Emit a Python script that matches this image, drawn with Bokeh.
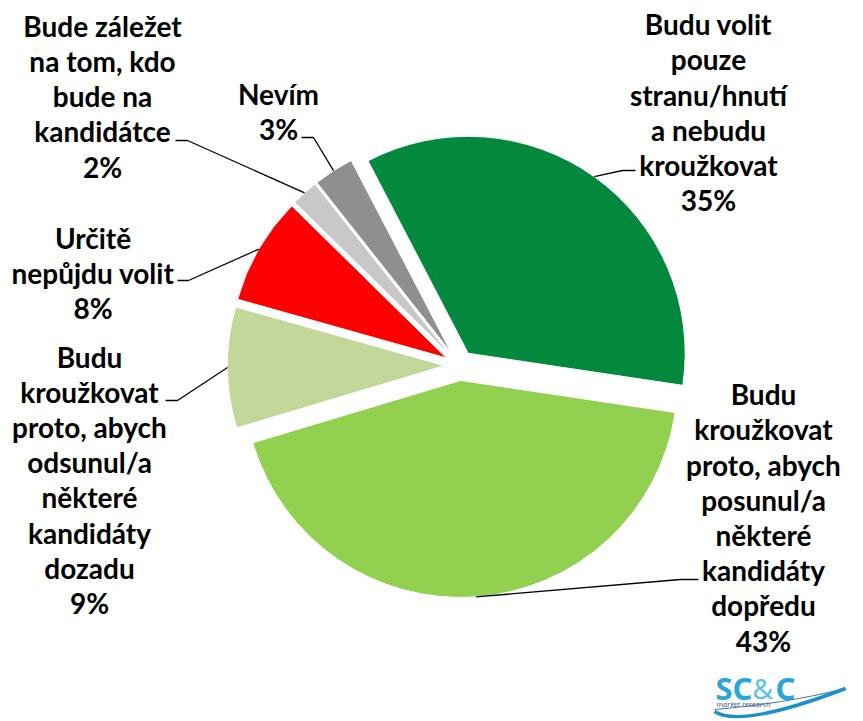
import math
from bokeh.plotting import figure
from bokeh.models import Range1d, ColumnDataSource
from bokeh.core.properties import value
from bokeh.embed import file_html
from bokeh.resources import INLINE

# ---------------- data ----------------
categories = [
    "Budu volit pouze stranu/hnutí a nebudu kroužkovat",
    "Budu kroužkovat proto, abych posunul/a některé kandidáty dopředu",
    "Budu kroužkovat proto, abych odsunul/a některé kandidáty dozadu",
    "Určitě nepůjdu volit",
    "Bude záležet na tom, kdo bude na kandidátce",
    "Nevím",
]
shares = [35, 43, 9, 8, 2, 3]
label_lines = [
    ["Budu volit", "pouze", "stranu/hnutí", "a nebudu", "kroužkovat"],
    ["Budu", "kroužkovat", "proto, abych", "posunul/a", "některé", "kandidáty", "dopředu"],
    ["Budu", "kroužkovat", "proto, abych", "odsunul/a", "některé", "kandidáty", "dozadu"],
    ["Určitě", "nepůjdu volit"],
    ["Bude záležet", "na tom, kdo", "bude na", "kandidátce"],
    ["Nevím"],
]
colors = ["#03893e", "#92d050", "#c4d79b", "#ff0000", "#c8c8c8", "#8f8f8f"]

# ---------------- layout (reference pixel coordinates) ----------------
W, H = 863, 721
CX, CY = 459, 365          # pie centre
R = 217                    # radius
EXPLODE = 15               # explosion offset
ROT = -27.5                # start angle, degrees clockwise from 12 o'clock
LINE_H = 35.2
TEXT_DY = -8               # correction of text placement
# label centre x and first baseline y
label_pos = [(708, 31.7), (763, 401.7), (89, 364.0), (92.5, 245.0), (102, 33.3), (278, 101.7)]
# leader lines: (end x, elbow x, y of horizontal part)
leader_pos = [(635, 622, 170), (698, 680, 579), (165, 177, 400), (177, 188, 280),
              (175, 187, 140), (301, 313, 137)]


def Y(y_ref):
    return H - y_ref


p = figure(width=W, height=H, x_range=Range1d(0, W), y_range=Range1d(0, H),
           output_backend="svg", toolbar_location=None, min_border=0)
p.axis.visible = False
p.grid.visible = False
p.outline_line_color = None
p.background_fill_color = "white"

total = float(sum(shares))
acc = ROT
wx, wy, sa, ea, mids = [], [], [], [], []
for v in shares:
    t0 = acc
    t1 = acc + 360.0 * v / total
    tm = math.radians((t0 + t1) / 2)
    mids.append(tm)
    wx.append(CX + EXPLODE * math.sin(tm))
    wy.append(Y(CY) + EXPLODE * math.cos(tm))
    sa.append(math.radians(90 - t0))
    ea.append(math.radians(90 - t1))
    acc = t1

src = ColumnDataSource(dict(x=wx, y=wy, sa=sa, ea=ea, color=colors, cat=categories))
p.wedge(x="x", y="y", radius=R, start_angle="sa", end_angle="ea", direction="clock",
        fill_color="color", line_color="white", line_width=1, source=src)

# leader lines
lxs, lys = [], []
for i, tm in enumerate(mids):
    sx = wx[i] + R * math.sin(tm)
    sy = wy[i] + R * math.cos(tm)
    ex, bx, hy = leader_pos[i]
    lxs.append([ex, bx, sx])
    lys.append([Y(hy), Y(hy), sy])
p.multi_line(xs=lxs, ys=lys, line_color="black", line_width=1.3)

# labels
tx, ty, tt = [], [], []
for i, lines in enumerate(label_lines):
    cx, by = label_pos[i]
    allines = lines + ["%d%%" % shares[i]]
    for j, s in enumerate(allines):
        tx.append(cx)
        ty.append(Y(by + j * LINE_H + TEXT_DY))
        tt.append(s)
p.text(x=tx, y=ty, text=tt, text_align="center", text_baseline="alphabetic",
       text_font=value("Lato"), text_font_style="bold", text_font_size="28px",
       text_color="black")

# logo
p.text(x=[715], y=[Y(695 + TEXT_DY)], text=["SC"], text_font=value("Noto Sans"), text_font_style="bold",
       text_font_size="31px", text_color="#29a6d9", text_baseline="alphabetic")
p.text(x=[752], y=[Y(695 + TEXT_DY)], text=["&"], text_font=value("Noto Sans"),
       text_font_size="28px", text_color="#5cc0e8", text_baseline="alphabetic")
p.text(x=[775], y=[Y(695 + TEXT_DY)], text=["C"], text_font=value("Noto Sans"), text_font_style="bold",
       text_font_size="31px", text_color="#29a6d9", text_baseline="alphabetic")
p.text(x=[716], y=[Y(706 + TEXT_DY / 3)], text=["market research"], text_font=value("Noto Sans"),
       text_font_style="italic", text_font_size="7.5px", text_color="#3a5a8a",
       text_baseline="alphabetic")
p.bezier(x0=[714], y0=[Y(709)], x1=[845], y1=[Y(688)], cx0=[760], cy0=[Y(705)],
         cx1=[800], cy1=[Y(699)], line_color="#4a6fa5", line_width=1)
p.bezier(x0=[714], y0=[Y(711)], x1=[845], y1=[Y(688)], cx0=[735], cy0=[Y(725)],
         cx1=[790], cy1=[Y(709)], line_color="#1b8fcb", line_width=3.5)

open("out.html", "w").write(file_html(p, INLINE))
